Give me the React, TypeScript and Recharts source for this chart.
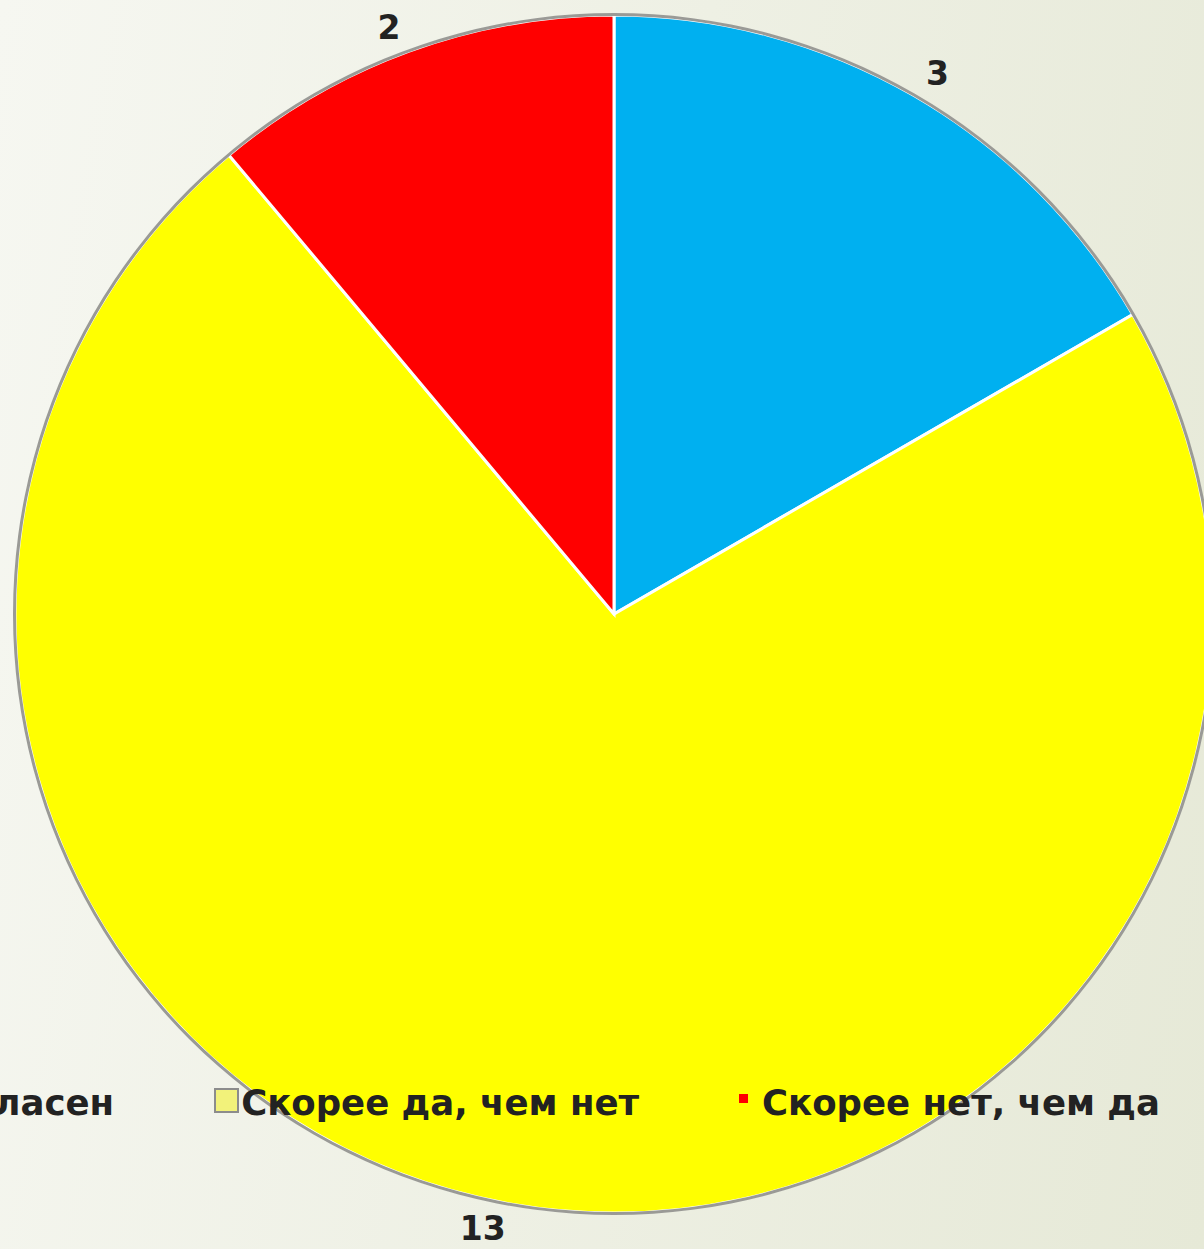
import { PieChart, Pie, Cell, Legend } from "recharts";

const categories = ["Полностью согласен", "Скорее да, чем нет", "Скорее нет, чем да"];
const counts = [3, 13, 2];
const colors = ["#00b0f0", "#ffff00", "#ff0000"];

const data = categories.map((name, i) => ({ name, value: counts[i] }));
const total = counts.reduce((a, b) => a + b, 0);

const RAD = Math.PI / 180;
const FONT = "'DejaVu Sans', Verdana, sans-serif";

// value label just outside the slice edge
// eslint-disable-next-line @typescript-eslint/no-explicit-any
function renderLabel(props: any) {
  const { cx, cy, midAngle, outerRadius, value } = props;
  const r = outerRadius + 25;
  const x = cx + r * Math.cos(-midAngle * RAD);
  const y = cy + r * Math.sin(-midAngle * RAD);
  return (
    <text
      x={x}
      y={y}
      fill="#222"
      fontFamily={FONT}
      fontWeight="bold"
      fontSize={33}
      textAnchor={x > cx ? "start" : "end"}
      dominantBaseline="central"
    >
      {value}
    </text>
  );
}

function LegendBox() {
  return (
    <div
      style={{
        display: "flex",
        justifyContent: "flex-end",
        alignItems: "center",
        gap: 100,
        fontFamily: FONT,
        fontWeight: "bold",
        fontSize: 35.5,
        color: "#222",
        whiteSpace: "nowrap",
      }}
    >
      {categories.map((c, i) => (
        <div key={c} style={{ display: "flex", alignItems: "center" }}>
          {i === 2 ? (
            <span
              style={{
                width: 9,
                height: 9,
                background: colors[i],
                marginRight: 14,
                marginTop: -8,
              }}
            />
          ) : (
            <span
              style={{
                width: 21,
                height: 21,
                border: "2px solid #8c8c8c",
                background: i === 1 ? "#f2f27a" : colors[i],
                marginRight: 2,
                marginTop: -4,
              }}
            />
          )}
          <span>{c}</span>
        </div>
      ))}
    </div>
  );
}

export default function App() {
  return (
    <div
      style={{
        position: "absolute",
        left: 0,
        top: 0,
        width: 1204,
        height: 1249,
        overflow: "hidden",
        background: "linear-gradient(100deg, #f6f7f1 0%, #eef0e4 50%, #e6e9d7 100%)",
      }}
    >
      <PieChart width={1204} height={1249} margin={{ top: 0, right: 0, bottom: 0, left: 0 }}>
        <Pie
          data={data}
          dataKey="value"
          nameKey="name"
          cx={614}
          cy={614}
          outerRadius={599}
          startAngle={90}
          endAngle={-270}
          stroke="#ffffff"
          strokeWidth={3}
          label={renderLabel}
          labelLine={false}
          isAnimationActive={false}
        >
          {data.map((d, i) => (
            <Cell key={d.name} fill={colors[i]} />
          ))}
        </Pie>
        <Pie
          data={[{ name: "total", value: total }]}
          dataKey="value"
          cx={614}
          cy={614}
          innerRadius={598}
          outerRadius={601}
          startAngle={90}
          endAngle={-270}
          fill="#9a9a96"
          stroke="none"
          isAnimationActive={false}
        />
        <Legend
          content={() => <LegendBox />}
          wrapperStyle={{ left: -800, right: 44, width: "auto", top: 1082, bottom: "auto" }}
        />
      </PieChart>
    </div>
  );
}
